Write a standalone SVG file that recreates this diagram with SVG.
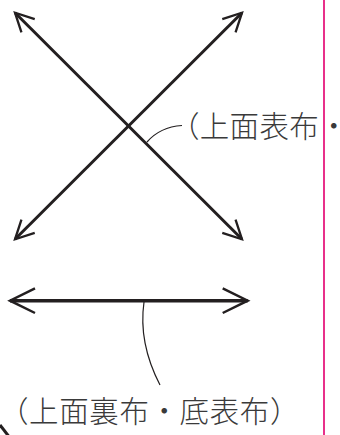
<svg xmlns="http://www.w3.org/2000/svg" width="340" height="435" viewBox="0 0 340 435">
  <style>
    .arrow { stroke: #231f20; stroke-width: 3; fill: none; }
    .harrow { stroke: #231f20; stroke-width: 3.5; fill: none; }
    .leader { stroke: #231f20; stroke-width: 1.2; fill: none; }
    .label { font-family: "Noto Sans CJK JP", "Noto Sans", sans-serif; font-size: 29.5px; font-weight: 300; letter-spacing: 0.3px; fill: #3a3a3a; }
    .wide { letter-spacing: 0.6px; }
    .pink { stroke: #e8308a; stroke-width: 2; }
  </style>
  <defs>
    <marker id="headX" markerUnits="userSpaceOnUse" markerWidth="40" markerHeight="40" orient="auto-start-reverse" refX="0" refY="0" viewBox="-30 -20 40 40" overflow="visible">
      <path d="M-18.5,-9.4 L0,0 L-18.5,9.4" fill="none" stroke="#231f20" stroke-width="2.3" stroke-linejoin="miter"/>
    </marker>
    <marker id="headH" markerUnits="userSpaceOnUse" markerWidth="40" markerHeight="40" orient="auto-start-reverse" refX="0" refY="0" viewBox="-30 -20 40 40" overflow="visible">
      <path d="M-25,-12.3 L0,0 L-25,12.3" fill="none" stroke="#231f20" stroke-width="2.5" stroke-linejoin="miter"/>
    </marker>
  </defs>
  <rect width="340" height="435" fill="#ffffff"/>
  <g id="connectors">
    <line class="arrow" x1="15" y1="12.7" x2="242" y2="239.3" marker-start="url(#headX)" marker-end="url(#headX)"/>
    <line class="arrow" x1="242" y1="12.7" x2="15" y2="239.3" marker-start="url(#headX)" marker-end="url(#headX)"/>
    <line class="harrow" x1="10" y1="300.7" x2="247.7" y2="300.7" marker-start="url(#headH)" marker-end="url(#headH)"/>
    <path class="leader" d="M147,142 Q160,127 182,125.5"/>
    <path class="leader" d="M144,302 C140,330 145,356 160,385"/>
    <line x1="0" y1="425" x2="8.5" y2="436" stroke="#231f20" stroke-width="3"/>
  </g>
  <g id="label-top">
    <text class="label" x="170" y="137">（上面表布・</text>
  </g>
  <g id="label-bottom">
    <text class="label wide" x="-1" y="421.5">（上面裏布・底表布）</text>
  </g>
  <g id="margin-line">
    <line class="pink" x1="324" y1="0" x2="324" y2="435"/>
  </g>
</svg>
